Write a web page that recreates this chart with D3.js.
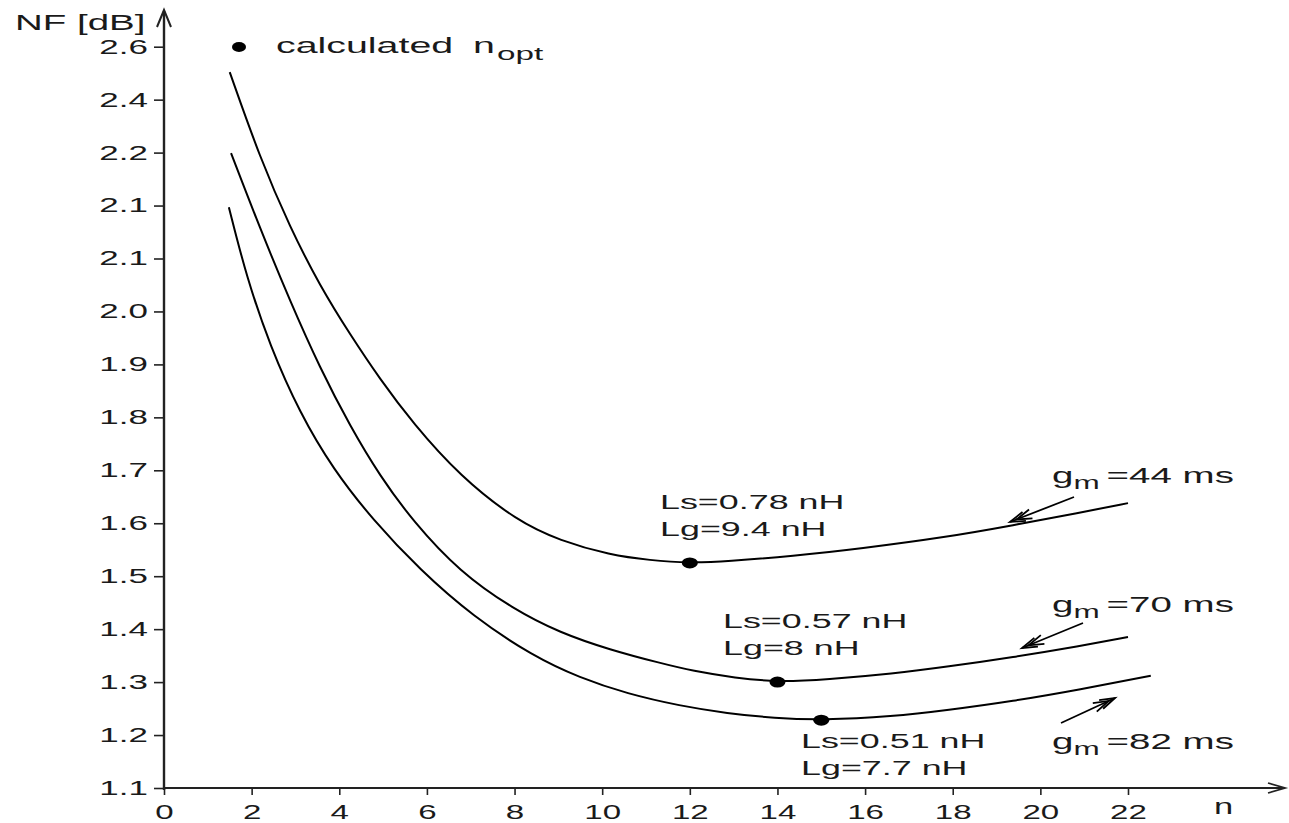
<!DOCTYPE html>
<html>
<head>
<meta charset="utf-8">
<script src="https://cdn.jsdelivr.net/npm/d3@7"></script>
<style>
  body { margin: 0; background: #fff; }
  text { font-family: "Liberation Sans", Arial, sans-serif; fill: #1a1a1a; }
</style>
</head>
<body>
<svg id="chart" width="1289" height="823"></svg>
<script>
// data (y values are positions on the printed NF axis)
var xTicks = [0, 2, 4, 6, 8, 10, 12, 14, 16, 18, 20, 22];
var yTicks = [1.1, 1.2, 1.3, 1.4, 1.5, 1.6, 1.7, 1.8, 1.9, 2.0, 2.1, 2.2, 2.3, 2.4, 2.5];
var yTickLabels = ["1.1", "1.2", "1.3", "1.4", "1.5", "1.6", "1.7", "1.8", "1.9", "2.0", "2.1", "2.1", "2.2", "2.4", "2.6"];

// gm = 44 ms
var n44  = [1.5, 2.19, 2.88, 3.56, 4.25, 4.93, 5.68, 6.75, 8.06, 9.04, 10.18, 11.09, 12.0, 12.85, 14.35, 15.88, 17.87, 19.37, 20.9, 22.0];
var nf44 = [2.452, 2.29, 2.158, 2.048, 1.956, 1.872, 1.789, 1.689, 1.604, 1.567, 1.54, 1.53, 1.525, 1.528, 1.538, 1.552, 1.574, 1.596, 1.62, 1.638];

// gm = 70 ms
var n70  = [1.53, 2.19, 2.88, 3.56, 4.25, 4.93, 5.68, 6.75, 7.97, 9.04, 10.18, 11.32, 12.07, 13.03, 14.0, 15.13, 16.64, 17.87, 19.37, 20.9, 22.0];
var nf70 = [2.299, 2.157, 2.019, 1.893, 1.783, 1.689, 1.604, 1.508, 1.438, 1.393, 1.361, 1.336, 1.321, 1.308, 1.30, 1.305, 1.316, 1.329, 1.347, 1.368, 1.385];

// gm = 82 ms
var n82  = [1.48, 1.89, 2.42, 3.1, 3.86, 4.77, 5.84, 7.05, 8.42, 9.49, 10.57, 11.78, 12.85, 13.94, 15.0, 16.64, 17.87, 19.37, 20.9, 22.52];
var nf82 = [2.197, 2.063, 1.935, 1.808, 1.702, 1.606, 1.512, 1.424, 1.349, 1.308, 1.278, 1.255, 1.241, 1.232, 1.228, 1.235, 1.247, 1.264, 1.286, 1.312];

var optN  = [12, 14, 15];
var optNF = [1.525, 1.30, 1.228];

var SX = 1.75; // the figure's lettering is stretched horizontally

var svg = d3.select('#chart');

var x = d3.scaleLinear().domain([0, 22]).range([164, 1128]);
var y = d3.scaleLinear().domain([1.1, 2.5]).range([788, 46.7]);

// axes
var gy = svg.append('g')
  .attr('transform', 'translate(164,0)')
  .call(d3.axisLeft(y).tickValues(yTicks).tickSize(10).tickSizeOuter(0)
    .tickFormat(function(d, i) { return yTickLabels[i]; }));
gy.select('.domain').remove();
gy.selectAll('line').attr('stroke', '#222').attr('stroke-width', 1.6);
gy.selectAll('text')
  .attr('x', -16 / SX)
  .attr('transform', 'scale(' + SX + ',1)')
  .style('font-size', '20px');

var gx = svg.append('g')
  .attr('transform', 'translate(0,788)')
  .call(d3.axisBottom(x).tickValues(xTicks).tickSize(7).tickSizeOuter(0));
gx.select('.domain').remove();
gx.selectAll('line').attr('stroke', '#222').attr('stroke-width', 1.6);
gx.selectAll('text')
  .attr('y', 16)
  .attr('transform', 'scale(' + (SX * 0.9) + ',1)')
  .style('font-size', '21px');

// axis lines with open arrow heads
svg.append('line').attr('x1', 164).attr('y1', 790).attr('x2', 164).attr('y2', 11)
  .attr('stroke', '#222').attr('stroke-width', 2.4);
svg.append('path').attr('d', 'M157,27 L164,10 L171,27')
  .attr('fill', 'none').attr('stroke', '#222').attr('stroke-width', 2);
svg.append('line').attr('x1', 163).attr('y1', 788).attr('x2', 1284).attr('y2', 788)
  .attr('stroke', '#222').attr('stroke-width', 1.8);
svg.append('path').attr('d', 'M1268,783 L1285,788 L1268,793')
  .attr('fill', 'none').attr('stroke', '#222').attr('stroke-width', 1.8);

// curves
var line = d3.line()
  .x(function(d) { return x(d[0]); })
  .y(function(d) { return y(d[1]); })
  .curve(d3.curveBasis);

[[n44, nf44], [n70, nf70], [n82, nf82]].forEach(function(s) {
  svg.append('path')
    .datum(d3.zip(s[0], s[1]))
    .attr('d', line)
    .attr('fill', 'none')
    .attr('stroke', '#000')
    .attr('stroke-width', 2);
});

// calculated optimum points
svg.selectAll('.opt')
  .data(d3.zip(optN, optNF))
  .enter().append('ellipse')
  .attr('class', 'opt')
  .attr('cx', function(d) { return x(d[0]); })
  .attr('cy', function(d) { return y(d[1]); })
  .attr('rx', 8).attr('ry', 5.5)
  .attr('fill', '#000');

// text helper, stretched like the original lettering
function label(str, px, py, size, sx) {
  return svg.append('text')
    .attr('transform', 'translate(' + px + ',' + py + ') scale(' + (sx || SX) + ',1)')
    .style('font-size', size + 'px')
    .text(str);
}

label('NF [dB]', 15, 30, 22);
label('n', 1214, 814, 23, 1.5);

// legend
svg.append('ellipse').attr('cx', 239).attr('cy', 47).attr('rx', 7).attr('ry', 5).attr('fill', '#000');
label('calculated', 276, 53, 22.5);
label('n', 473, 53, 22.5);
label('opt', 497, 60, 19);

// inductance annotations
label('Ls=0.78 nH', 660, 509, 20.5);
label('Lg=9.4 nH', 660, 536, 20.5);
label('Ls=0.57 nH', 723, 628, 20.5);
label('Lg=8 nH', 723, 655, 20.5);
label('Ls=0.51 nH', 801, 748, 20.5);
label('Lg=7.7 nH', 801, 775, 20.5);

// gm labels, subscript as tspan
[[483, '=44 ms'], [612, '=70 ms'], [749, '=82 ms']].forEach(function(g) {
  var t = svg.append('text')
    .attr('transform', 'translate(1052,' + g[0] + ') scale(' + SX + ',1)')
    .style('font-size', '22px');
  t.append('tspan').text('g');
  t.append('tspan').attr('dy', 6).style('font-size', '18px').text('m');
  t.append('tspan').attr('dy', -6).attr('dx', 4).text(g[1]);
});

// pointer arrows with double barbs
function arrow(x1, y1, x2, y2) {
  var a = Math.atan2(y2 - y1, x2 - x1), L = 16, w = 0.3;
  svg.append('line').attr('x1', x1).attr('y1', y1).attr('x2', x2).attr('y2', y2)
    .attr('stroke', '#000').attr('stroke-width', 1.8);
  [0, 7].forEach(function(off) {
    var tx = x2 - off * Math.cos(a), ty = y2 - off * Math.sin(a);
    var p = 'M' + (tx - L * Math.cos(a - w)) + ',' + (ty - L * Math.sin(a - w)) +
      ' L' + tx + ',' + ty +
      ' L' + (tx - L * Math.cos(a + w)) + ',' + (ty - L * Math.sin(a + w));
    svg.append('path').attr('d', p).attr('fill', 'none')
      .attr('stroke', '#000').attr('stroke-width', 1.8);
  });
}
arrow(1074, 497, 1010, 522);
arrow(1083, 623, 1022, 648);
arrow(1061, 723, 1115, 698);
</script>
</body>
</html>
